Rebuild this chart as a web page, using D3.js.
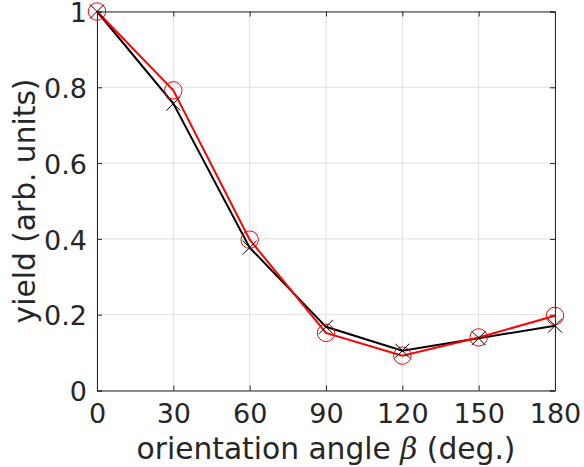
<!DOCTYPE html>
<html><head><meta charset="utf-8">
<script src="https://cdn.jsdelivr.net/npm/d3@7"></script>
<style>body{margin:0;background:#fff;} text{font-family:"DejaVu Sans",sans-serif;fill:#262626;}</style>
</head><body>
<svg id="c" width="584" height="467"></svg>
<script>
const angles = [0, 30, 60, 90, 120, 150, 180];
const redValues = [1.0, 0.792, 0.398, 0.152, 0.092, 0.140, 0.197];
const blackValues = [1.0, 0.757, 0.377, 0.168, 0.105, 0.138, 0.171];
const xTicks = [0, 30, 60, 90, 120, 150, 180];
const yTicks = [0, 0.2, 0.4, 0.6, 0.8, 1];

const svg = d3.select("#c");
const L = 97, R = 555, T = 11.5, B = 390.5;
const x = d3.scaleLinear().domain([0, 180]).range([L, R]);
const y = d3.scaleLinear().domain([0, 1]).range([B, T]);
const axisColor = "#262626";

// grid
const g = svg.append("g");
g.selectAll(".gx").data(xTicks).join("line")
  .attr("x1", d => x(d)).attr("x2", d => x(d)).attr("y1", T).attr("y2", B)
  .attr("stroke", "#dfdfdf").attr("stroke-width", 1);
g.selectAll(".gy").data(yTicks).join("line")
  .attr("x1", L).attr("x2", R).attr("y1", d => y(d)).attr("y2", d => y(d))
  .attr("stroke", "#dfdfdf").attr("stroke-width", 1);

// axes
const fmt = d => d3.format("~g")(d);
const ax = svg.append("g").attr("transform", `translate(0,${B})`)
  .call(d3.axisBottom(x).tickValues(xTicks).tickSize(-5).tickPadding(13).tickFormat(fmt));
const axT = svg.append("g").attr("transform", `translate(0,${T})`)
  .call(d3.axisTop(x).tickValues(xTicks).tickSize(-5).tickFormat(""));
const ay = svg.append("g").attr("transform", `translate(${L},0)`)
  .call(d3.axisLeft(y).tickValues(yTicks).tickSize(-5).tickPadding(10).tickFormat(fmt));
const ayR = svg.append("g").attr("transform", `translate(${R},0)`)
  .call(d3.axisRight(y).tickValues(yTicks).tickSize(-5).tickFormat(""));
[ax, axT, ay, ayR].forEach(a => {
  a.select(".domain").attr("stroke", axisColor).attr("stroke-width", 1);
  a.selectAll(".tick line").attr("stroke", axisColor).attr("stroke-width", 1);
  a.selectAll(".tick text").attr("fill", axisColor).style("font-size", "27px").style("font-family", "DejaVu Sans");
});
ax.selectAll(".tick text").attr("dy", "0.71em");
ay.selectAll(".tick text").attr("dy", "0.38em");

// lines
const line = d3.line().x((d, i) => x(angles[i])).y(d => y(d));
svg.append("path").datum(blackValues).attr("d", line)
  .attr("fill", "none").attr("stroke", "#000").attr("stroke-width", 2);
svg.append("path").datum(redValues).attr("d", line)
  .attr("fill", "none").attr("stroke", "#ff0000").attr("stroke-width", 2);

// markers
svg.selectAll(".cm").data(redValues).join("circle")
  .attr("cx", (d, i) => x(angles[i])).attr("cy", d => y(d)).attr("r", 8.7)
  .attr("fill", "none").attr("stroke", "#ff0000").attr("stroke-width", 1);
const s = 7;
svg.selectAll(".xm").data(blackValues).join("path")
  .attr("d", (d, i) => {
    const cx = x(angles[i]), cy = y(d);
    return `M${cx-s},${cy-s}L${cx+s},${cy+s}M${cx-s},${cy+s}L${cx+s},${cy-s}`;
  })
  .attr("fill", "none").attr("stroke", "#000").attr("stroke-width", 1);

// labels
svg.append("text").attr("x", (L + R) / 2).attr("y", 459).attr("text-anchor", "middle")
  .style("font-size", "29.7px")
  .html('orientation angle <tspan style="font-family:\'DejaVu Serif\';font-style:italic">β</tspan> (deg.)');
svg.append("text").attr("transform", `translate(35,${(T + B) / 2}) rotate(-90)`)
  .attr("text-anchor", "middle").style("font-size", "29.7px")
  .text("yield (arb. units)");
</script>
</body></html>
